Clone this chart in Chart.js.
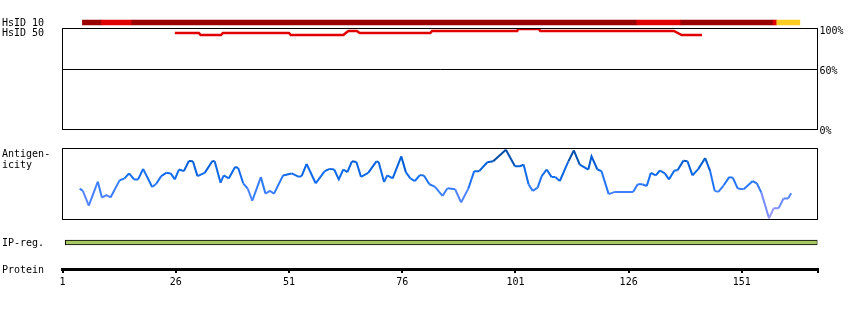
<!DOCTYPE html>
<html>
<head>
<meta charset="utf-8">
<script src="https://cdn.jsdelivr.net/npm/chart.js@4/dist/chart.umd.min.js"></script>
<style>
  body { margin: 0; background: #fff; }
  #wrap { position: relative; width: 850px; height: 310px; }
  #wrap canvas { position: absolute; left: 0; }
  .lbl { position: absolute; left: 2px; font: 10px/10px "DejaVu Sans Mono", monospace; color: #000; white-space: pre; }
</style>
</head>
<body>
<div id="wrap">
  <canvas id="ident" width="850" height="140" style="top:0"></canvas>
  <canvas id="hs10" width="850" height="25" style="top:10px"></canvas>
  <canvas id="antigen" width="850" height="90" style="top:140px"></canvas>
  <canvas id="ipreg" width="850" height="15" style="top:235px"></canvas>
  <canvas id="protein" width="850" height="50" style="top:250px"></canvas>
  <div class="lbl" style="top:18px">HsID 10</div>
  <div class="lbl" style="top:28px">HsID 50</div>
  <div class="lbl" style="top:148px;line-height:11px">Antigen-<br>icity</div>
  <div class="lbl" style="top:238px">IP-reg.</div>
  <div class="lbl" style="top:265px">Protein</div>
</div>
<script>
// residue range of the protein axis
var resMin = 1;
var resMax = 167.7;
var proteinTicks = [1, 26, 51, 76, 101, 126, 151];

// HsID 10 coverage segments
var hs10Start = [5.4, 9.6, 16.3, 127.8, 137.5, 157.9, 158.7];
var hs10End   = [9.6, 16.3, 127.8, 137.5, 157.9, 158.7, 163.8];
var hs10Level = ["high", "mid", "high", "mid", "high", "mid", "low"];

// HsID 50 identity (%)
var hs50Res = [25.8, 31.1, 31.5, 36.0, 36.4, 51.0, 51.4, 63.0, 64.1, 66.0, 66.6, 82.2, 82.6, 101.4, 101.6, 106.2, 106.5, 136.0, 137.7, 142.2];
var hs50Pct = [96.5, 96.5, 94.5, 94.5, 96.5, 96.5, 94.5, 94.5, 98.5, 98.5, 96.5, 96.5, 98.5, 98.5, 100.5, 100.5, 98.5, 98.5, 94.5, 94.5];
var pctTicks = [0, 60, 100];

// antigenicity profile
var antigenRes = [4.8, 5.5, 6.8, 8.8, 9.7, 10.7, 11.6, 13.6, 14.7, 15.7, 16.8, 17.7, 18.8, 20.8, 21.7, 22.8, 23.9, 24.9, 25.8, 26.7,
  27.8, 28.9, 29.8, 30.8, 32.4, 34.1, 34.6, 35.9, 36.6, 37.7, 39.1, 39.8, 40.9, 41.9, 42.9, 44.8, 45.8, 46.8, 47.7, 49.7,
  51.6, 53.2, 53.8, 54.9, 56.9, 58.9, 60.0, 61.0, 62.0, 63.0, 63.9, 64.9, 65.9, 66.9, 68.5, 70.3, 70.8, 72.0, 72.7, 73.9,
  75.8, 76.8, 77.8, 78.8, 79.9, 80.8, 82.0, 83.2, 84.9, 86.0, 87.7, 89.0, 90.6, 91.9, 93.0, 94.8, 96.1, 98.9, 100.9, 102.0,
  102.8, 103.9, 104.8, 105.9, 106.8, 107.9, 109.0, 109.8, 110.8, 112.7, 113.9, 115.2, 117.1, 117.8, 119.1, 120.0, 121.6, 123.0, 127.0, 128.0,
  129.0, 130.0, 130.9, 132.0, 132.9, 134.0, 134.9, 136.1, 136.8, 138.1, 139.0, 140.1, 141.4, 142.9, 144.0, 145.0, 145.8, 147.0, 148.2, 149.0,
  150.1, 151.4, 153.4, 154.3, 155.3, 157.0, 158.0, 159.1, 160.2, 161.2, 161.9];
var antigenScore = [43.5, 40.3, 19.4, 53.2, 31.0, 34.3, 31.0, 55.1, 57.9, 64.9, 56.5, 56.5, 71.3, 45.8, 50.4, 61.1, 65.7, 64.9, 56.5, 70.4,
  68.1, 82.4, 81.9, 61.1, 65.7, 82.4, 81.9, 51.8, 62.1, 57.9, 74.0, 72.6, 51.0, 43.5, 26.4, 59.7, 36.5, 40.3, 36.5, 62.1,
  64.9, 60.1, 61.1, 78.2, 51.0, 68.1, 71.3, 70.4, 56.5, 70.4, 66.7, 81.9, 81.0, 60.1, 65.7, 81.9, 81.0, 52.8, 62.1, 57.9,
  88.9, 66.7, 57.9, 54.2, 62.5, 62.1, 49.6, 46.3, 33.3, 44.0, 42.6, 24.0, 43.5, 68.1, 68.1, 80.6, 81.9, 98.2, 75.0, 75.0,
  77.4, 49.6, 40.3, 44.9, 61.1, 70.4, 59.7, 59.7, 54.2, 81.9, 97.2, 77.4, 70.4, 88.9, 70.4, 68.1, 35.7, 38.9, 38.9, 49.6,
  49.6, 47.2, 65.7, 62.1, 69.0, 64.9, 56.5, 69.0, 69.4, 82.9, 81.9, 62.1, 71.3, 86.5, 68.1, 40.3, 38.9, 48.2, 59.7, 58.8,
  43.5, 42.6, 54.2, 51.0, 37.9, 1.8, 15.7, 15.7, 29.6, 29.6, 37.1];

// IP region
var ipStart = [1.6];
var ipEnd = [167.7];

var levelColour = { high: "#990000", mid: "#e00000", low: "#ffcc22" };

Chart.defaults.font.family = "'DejaVu Sans Mono', monospace";
Chart.defaults.font.size = 10;
Chart.defaults.color = "#000";

var base = {
  responsive: false,
  animation: false,
  events: [],
  plugins: { legend: { display: false }, tooltip: { enabled: false } }
};
function opts(extra) { return Object.assign({}, base, extra); }
function hiddenX() { return { type: "linear", display: false, min: resMin, max: resMax }; }

// black box round the plot area
var frame = {
  id: "frame",
  afterDraw: function (chart) {
    var a = chart.chartArea, c = chart.ctx;
    c.save();
    c.strokeStyle = "#000";
    c.lineWidth = 1;
    c.strokeRect(a.left, a.top, a.right - a.left, a.bottom - a.top);
    c.restore();
  }
};

// blue shade by antigenicity level
var stops = [[0, [175, 165, 255]], [20, [120, 140, 255]], [40, [60, 128, 255]], [60, [20, 110, 240]], [80, [0, 92, 212]], [100, [10, 60, 120]]];
function shade(v) {
  for (var i = 1; i < stops.length; i++) {
    if (v <= stops[i][0] || i == stops.length - 1) {
      var t = Math.max(0, Math.min(1, (v - stops[i - 1][0]) / (stops[i][0] - stops[i - 1][0])));
      var a = stops[i - 1][1], b = stops[i][1];
      return "rgb(" + Math.round(a[0] + (b[0] - a[0]) * t) + "," + Math.round(a[1] + (b[1] - a[1]) * t) + "," + Math.round(a[2] + (b[2] - a[2]) * t) + ")";
    }
  }
}

// identity panel
new Chart(document.getElementById("ident"), {
  type: "line",
  data: {
    datasets: [{
      data: hs50Res.map(function (r, i) { return { x: r, y: hs50Pct[i] }; }),
      borderColor: "#e00000",
      borderWidth: 2.5,
      pointRadius: 0,
      tension: 0
    }]
  },
  options: opts({
    layout: { padding: { left: 62.5, right: 2.5, top: 28.5, bottom: 10.5 } },
    scales: {
      x: hiddenX(),
      y: {
        position: "right",
        min: 0,
        max: 101,
        afterFit: function (s) { s.width = 30; },
        afterBuildTicks: function (s) { s.ticks = pctTicks.map(function (v) { return { value: v }; }); },
        ticks: { autoSkip: false, padding: 2, labelOffset: 2, callback: function (v) { return v + "%"; } },
        grid: {
          drawTicks: false,
          lineWidth: 1,
          color: function (c) { return c.tick && c.tick.value === 60 ? "#000" : "rgba(0,0,0,0)"; }
        },
        border: { display: false }
      }
    }
  }),
  plugins: [frame]
});

// HsID 10 bar
new Chart(document.getElementById("hs10"), {
  type: "bar",
  data: {
    datasets: [{
      data: hs10Start.map(function (s, i) { return { x: [s, hs10End[i]], y: 0 }; }),
      backgroundColor: hs10Level.map(function (l) { return levelColour[l]; }),
      borderWidth: 0,
      barThickness: 5
    }]
  },
  options: opts({
    indexAxis: "y",
    layout: { padding: { left: 62.5, right: 32.5, top: 0, bottom: 0 } },
    scales: { x: hiddenX(), y: { type: "linear", display: false, min: -1, max: 1 } }
  })
});

// antigenicity
new Chart(document.getElementById("antigen"), {
  type: "line",
  data: {
    datasets: [{
      data: antigenRes.map(function (r, i) { return { x: r, y: antigenScore[i] }; }),
      borderWidth: 2,
      pointRadius: 0,
      tension: 0,
      segment: { borderColor: function (c) { return shade((c.p0.parsed.y + c.p1.parsed.y) / 2); } }
    }]
  },
  options: opts({
    layout: { padding: { left: 62.5, right: 32.5, top: 8.5, bottom: 10.5 } },
    scales: { x: hiddenX(), y: { display: false, min: 0, max: 100 } }
  }),
  plugins: [frame]
});

// IP region bar
new Chart(document.getElementById("ipreg"), {
  type: "bar",
  data: {
    datasets: [{
      data: ipStart.map(function (s, i) { return { x: [s, ipEnd[i]], y: 0 }; }),
      backgroundColor: "#a8c864",
      borderColor: "#000",
      borderWidth: 1,
      borderSkipped: false,
      barThickness: 5
    }]
  },
  options: opts({
    indexAxis: "y",
    layout: { padding: { left: 62.5, right: 32.5, top: 0, bottom: 0 } },
    scales: { x: hiddenX(), y: { type: "linear", display: false, min: -1, max: 1 } }
  })
});

// protein axis
new Chart(document.getElementById("protein"), {
  type: "line",
  data: { datasets: [] },
  options: opts({
    layout: { padding: { left: 62.5, right: 32.5, top: 5, bottom: 11 } },
    scales: {
      x: {
        type: "linear",
        min: resMin,
        max: resMax,
        afterFit: function (s) { s.height = 20; },
        afterBuildTicks: function (s) {
          s.ticks = proteinTicks.map(function (v) { return { value: v }; }).concat([{ value: resMax }]);
        },
        ticks: {
          autoSkip: false,
          maxRotation: 0,
          padding: 3,
          callback: function (v, i, t) { return i === t.length - 1 ? "" : String(v); }
        },
        grid: { drawOnChartArea: false, tickLength: 4, lineWidth: 2, color: "#000" },
        border: { display: true, color: "#000", width: 3 }
      },
      y: { display: false, min: 0, max: 1 }
    }
  })
});
</script>
</body>
</html>
